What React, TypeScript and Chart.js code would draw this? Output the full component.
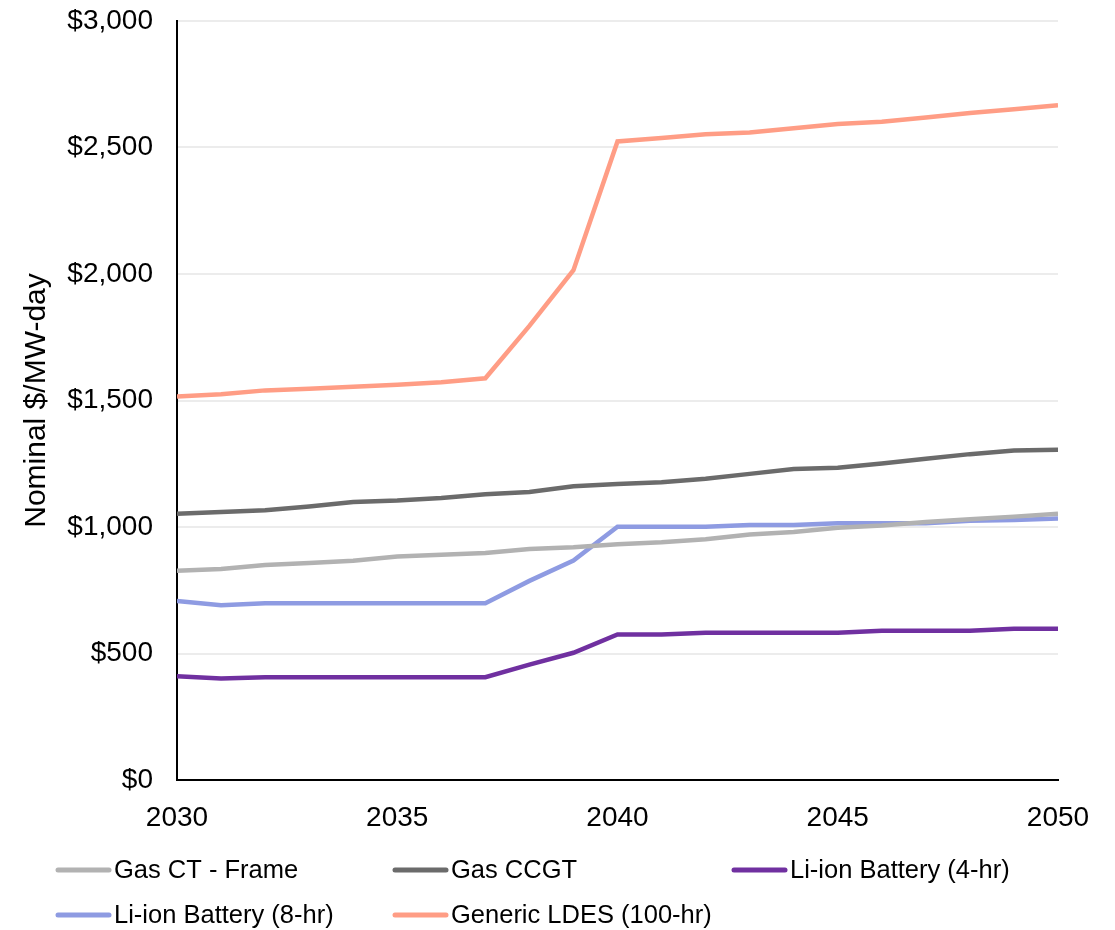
import React, { useEffect, useRef } from "react";
import { Chart, registerables } from "chart.js";

Chart.register(...registerables);

const FONT = "'Liberation Sans', Arial, sans-serif";

const years = [
  2030, 2031, 2032, 2033, 2034, 2035, 2036, 2037, 2038, 2039, 2040,
  2041, 2042, 2043, 2044, 2045, 2046, 2047, 2048, 2049, 2050,
];

const gasCtFrame = [
  827, 834, 850, 858, 867, 883, 890, 897, 913, 920, 932,
  940, 952, 970, 980, 997, 1006, 1020, 1031, 1041, 1052,
];

const gasCcgt = [
  1052, 1059, 1066, 1081, 1099, 1105, 1115, 1129, 1138, 1161, 1170,
  1177, 1191, 1210, 1229, 1234, 1251, 1270, 1288, 1302, 1305,
];

const liIon4hr = [
  410, 401, 406, 406, 406, 406, 406, 406, 456, 503, 575,
  575, 582, 582, 582, 582, 590, 590, 590, 598, 598,
];

const liIon8hr = [
  708, 691, 699, 699, 699, 699, 699, 699, 787, 867, 1001,
  1001, 1001, 1008, 1008, 1015, 1015, 1015, 1025, 1028, 1034,
];

const genericLdes = [
  1516, 1525, 1540, 1546, 1554, 1562, 1572, 1588, 1795, 2015, 2524,
  2538, 2552, 2559, 2576, 2593, 2602, 2619, 2636, 2651, 2667,
];

const seriesNames = [
  "Gas CT - Frame",
  "Gas CCGT",
  "Li-ion Battery (4-hr)",
  "Li-ion Battery (8-hr)",
  "Generic LDES (100-hr)",
];
const seriesValues = [gasCtFrame, gasCcgt, liIon4hr, liIon8hr, genericLdes];
const seriesColors = ["#b2b2b2", "#6b6b6b", "#7030a0", "#8e9be2", "#ff9d85"];

const yTicks = [0, 500, 1000, 1500, 2000, 2500, 3000];
const xTicks = [2030, 2035, 2040, 2045, 2050];

// Legend laid out as a three-column grid under the plot
const gridLegend = {
  id: "gridLegend",
  afterDraw(chart: any) {
    const { ctx } = chart;
    const colX = [56, 393, 732];
    const rowY = [870, 915];
    ctx.save();
    ctx.font = `25.5px ${FONT}`;
    ctx.textBaseline = "middle";
    ctx.textAlign = "left";
    chart.data.datasets.forEach((ds: any, i: number) => {
      const x = colX[i % 3];
      const y = rowY[Math.floor(i / 3)];
      ctx.strokeStyle = ds.borderColor;
      ctx.lineWidth = 5;
      ctx.lineCap = "round";
      ctx.beginPath();
      ctx.moveTo(x + 2, y);
      ctx.lineTo(x + 53, y);
      ctx.stroke();
      ctx.fillStyle = "#000";
      ctx.fillText(ds.label, x + 58, y + 1);
    });
    ctx.restore();
  },
};

export default function App() {
  const canvasRef = useRef<HTMLCanvasElement | null>(null);

  useEffect(() => {
    if (!canvasRef.current) return;
    const chart = new Chart(canvasRef.current, {
      type: "line",
      data: {
        datasets: seriesNames.map((name, i) => ({
          label: name,
          data: years.map((yr, j) => ({ x: yr, y: seriesValues[i][j] })),
          borderColor: seriesColors[i],
          backgroundColor: seriesColors[i],
          borderWidth: 4.5,
          pointRadius: 0,
          tension: 0,
          fill: false,
        })),
      },
      options: {
        animation: false,
        responsive: false,
        maintainAspectRatio: false,
        layout: { autoPadding: false, padding: { left: 0, right: 57, top: 21, bottom: 100 } },
        plugins: {
          legend: { display: false },
          title: { display: false },
          tooltip: { enabled: false },
        },
        scales: {
          x: {
            type: "linear",
            min: 2030,
            max: 2050,
            afterBuildTicks: (scale: any) => {
              scale.ticks = xTicks.map((v) => ({ value: v }));
            },
            afterFit: (scale: any) => {
              scale.height = 50;
              scale.paddingLeft = 0;
              scale.paddingRight = 0;
              scale.paddingTop = 0;
              scale.paddingBottom = 0;
            },
            grid: { display: false, drawTicks: false },
            border: { display: true, color: "#000", width: 2 },
            ticks: {
              color: "#000",
              font: { family: FONT, size: 28 },
              padding: 21,
              maxRotation: 0,
              autoSkip: false,
              callback: (v: any) => String(v),
            },
          },
          y: {
            min: 0,
            max: 3000,
            afterBuildTicks: (scale: any) => {
              scale.ticks = yTicks.map((v) => ({ value: v }));
            },
            afterFit: (scale: any) => {
              scale.width = 177;
              scale.paddingTop = 0;
              scale.paddingBottom = 0;
              scale.paddingLeft = 0;
              scale.paddingRight = 0;
            },
            grid: { color: "#ececec", lineWidth: 2, drawTicks: false },
            border: { display: true, color: "#000", width: 2 },
            ticks: {
              color: "#000",
              font: { family: FONT, size: 28 },
              padding: 24,
              callback: (v: any) => "$" + Number(v).toLocaleString("en-US"),
            },
            title: {
              display: true,
              text: "Nominal $/MW-day",
              color: "#000",
              font: { family: FONT, size: 30 },
              padding: { top: 19, bottom: 0 },
            },
          },
        },
      },
      plugins: [gridLegend],
    });
    return () => chart.destroy();
  }, []);

  return (
    <div style={{ position: "fixed", left: 0, top: 0, width: 1115, height: 930, background: "#fff" }}>
      <canvas ref={canvasRef} width={1115} height={930} style={{ width: 1115, height: 930 }} />
    </div>
  );
}
